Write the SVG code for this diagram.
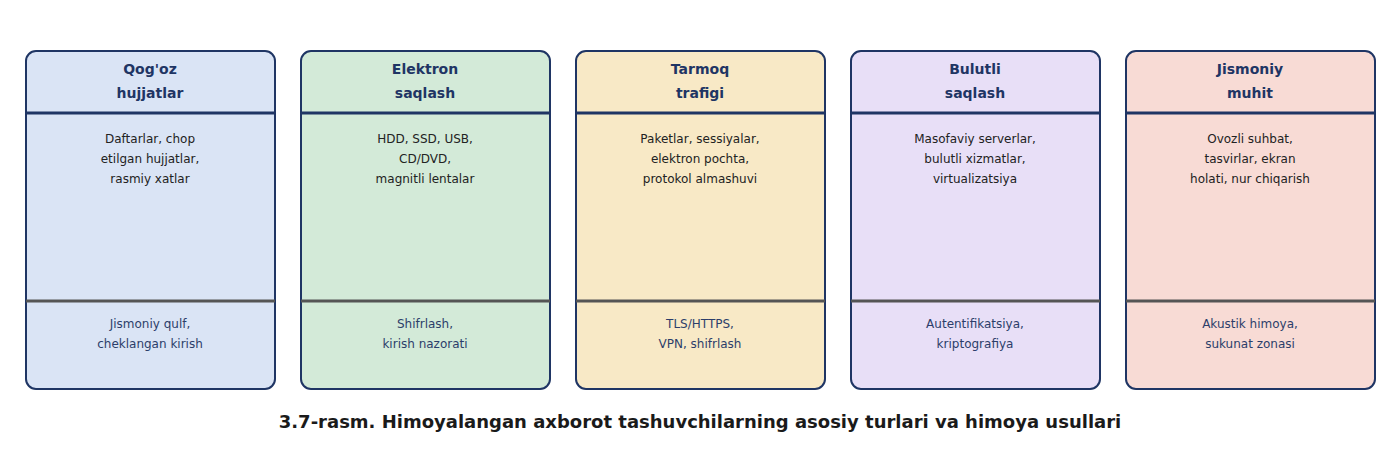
<svg xmlns="http://www.w3.org/2000/svg" width="1400" height="450" viewBox="0 0 1400 450">
<style>
.card{stroke:#1f3564;stroke-width:2}
.hl{stroke:#1f3564;stroke-width:3}
.dl{stroke:#555;stroke-width:3}
text{font-family:"DejaVu Sans",sans-serif;text-anchor:middle}
.t{font-size:14px;font-weight:bold;fill:#1f3564}
.b{font-size:12px;fill:#222}
.p{font-size:12px;fill:#2c3e6a}
.cap{font-size:18px;font-weight:bold;fill:#1a1a1a}
</style>
<rect width="1400" height="450" fill="#fff"/>
<g id="n1">
<rect class="card" x="26" y="51" width="249" height="338" rx="10" fill="#dae4f5"/>
<line class="hl" x1="26" y1="113" x2="275" y2="113"/><line class="dl" x1="26" y1="301" x2="275" y2="301"/>
<text class="t" x="150" y="74">Qog'oz</text><text class="t" x="150" y="98">hujjatlar</text>
<text class="b" x="150" y="143">Daftarlar, chop</text><text class="b" x="150" y="163">etilgan hujjatlar,</text><text class="b" x="150" y="183">rasmiy xatlar</text>
<text class="p" x="150" y="328">Jismoniy qulf,</text><text class="p" x="150" y="348">cheklangan kirish</text>
</g>
<g id="n2">
<rect class="card" x="301" y="51" width="249" height="338" rx="10" fill="#d3ead8"/>
<line class="hl" x1="301" y1="113" x2="550" y2="113"/><line class="dl" x1="301" y1="301" x2="550" y2="301"/>
<text class="t" x="425" y="74">Elektron</text><text class="t" x="425" y="98">saqlash</text>
<text class="b" x="425" y="143">HDD, SSD, USB,</text><text class="b" x="425" y="163">CD/DVD,</text><text class="b" x="425" y="183">magnitli lentalar</text>
<text class="p" x="425" y="328">Shifrlash,</text><text class="p" x="425" y="348">kirish nazorati</text>
</g>
<g id="n3">
<rect class="card" x="576" y="51" width="249" height="338" rx="10" fill="#f8e9c6"/>
<line class="hl" x1="576" y1="113" x2="825" y2="113"/><line class="dl" x1="576" y1="301" x2="825" y2="301"/>
<text class="t" x="700" y="74">Tarmoq</text><text class="t" x="700" y="98">trafigi</text>
<text class="b" x="700" y="143">Paketlar, sessiyalar,</text><text class="b" x="700" y="163">elektron pochta,</text><text class="b" x="700" y="183">protokol almashuvi</text>
<text class="p" x="700" y="328">TLS/HTTPS,</text><text class="p" x="700" y="348">VPN, shifrlash</text>
</g>
<g id="n4">
<rect class="card" x="851" y="51" width="249" height="338" rx="10" fill="#e8dff7"/>
<line class="hl" x1="851" y1="113" x2="1100" y2="113"/><line class="dl" x1="851" y1="301" x2="1100" y2="301"/>
<text class="t" x="975" y="74">Bulutli</text><text class="t" x="975" y="98">saqlash</text>
<text class="b" x="975" y="143">Masofaviy serverlar,</text><text class="b" x="975" y="163">bulutli xizmatlar,</text><text class="b" x="975" y="183">virtualizatsiya</text>
<text class="p" x="975" y="328">Autentifikatsiya,</text><text class="p" x="975" y="348">kriptografiya</text>
</g>
<g id="n5">
<rect class="card" x="1126" y="51" width="249" height="338" rx="10" fill="#f8dbd5"/>
<line class="hl" x1="1126" y1="113" x2="1375" y2="113"/><line class="dl" x1="1126" y1="301" x2="1375" y2="301"/>
<text class="t" x="1250" y="74">Jismoniy</text><text class="t" x="1250" y="98">muhit</text>
<text class="b" x="1250" y="143">Ovozli suhbat,</text><text class="b" x="1250" y="163">tasvirlar, ekran</text><text class="b" x="1250" y="183">holati, nur chiqarish</text>
<text class="p" x="1250" y="328">Akustik himoya,</text><text class="p" x="1250" y="348">sukunat zonasi</text>
</g>
<g id="connectors"/>
<text class="cap" x="700" y="428">3.7-rasm. Himoyalangan axborot tashuvchilarning asosiy turlari va himoya usullari</text>
</svg>
